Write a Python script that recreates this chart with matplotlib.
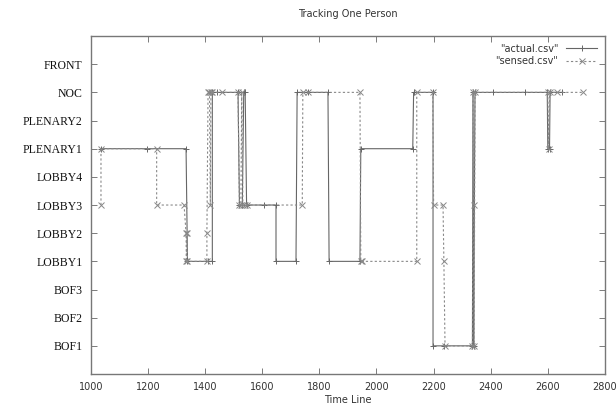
import matplotlib
matplotlib.use("Agg")
import matplotlib.pyplot as plt

# location names, bottom to top
places = ["BOF1", "BOF2", "BOF3", "LOBBY1", "LOBBY2", "LOBBY3",
          "LOBBY4", "PLENARY1", "PLENARY2", "NOC", "FRONT"]

# actual.csv  (time, place)
actual_t = [1035, 1195, 1333, 1338, 1410, 1425, 1425, 1440, 1515,
            1520, 1530, 1535, 1540, 1545, 1606, 1648, 1648, 1718, 1722,
            1760, 1830, 1834, 1942, 1945, 2127, 2130, 2198, 2198,
            2236, 2336, 2338, 2340, 2345, 2407, 2520, 2598, 2600, 2606,
            2608, 2650]
actual_p = ["PLENARY1", "PLENARY1", "PLENARY1", "LOBBY1", "LOBBY1",
            "LOBBY1", "NOC", "NOC", "NOC",
            "LOBBY3", "LOBBY3", "NOC", "NOC", "LOBBY3", "LOBBY3", "LOBBY3",
            "LOBBY1", "LOBBY1", "NOC",
            "NOC", "NOC", "LOBBY1", "LOBBY1", "PLENARY1",
            "PLENARY1", "NOC", "NOC", "BOF1",
            "BOF1", "BOF1", "NOC", "BOF1", "NOC", "NOC", "NOC", "NOC",
            "PLENARY1", "PLENARY1",
            "NOC", "NOC"]

# sensed.csv  (time, place)
sensed_t = [1035, 1035, 1230, 1230, 1326, 1333, 1334, 1336, 1338, 1406,
            1406, 1410, 1415, 1418, 1420, 1425, 1460, 1515, 1520, 1525,
            1528, 1532, 1540, 1548, 1740, 1742, 1760, 1942, 1945, 1950,
            2141, 2141, 2197, 2200, 2233, 2236, 2240, 2336, 2338, 2340,
            2342, 2345, 2600, 2603, 2606, 2631, 2722]
sensed_p = ["LOBBY3", "PLENARY1", "PLENARY1", "LOBBY3", "LOBBY3", "LOBBY2",
            "LOBBY1", "LOBBY2", "LOBBY1", "LOBBY1",
            "LOBBY2", "NOC", "NOC", "LOBBY3", "NOC", "NOC", "NOC", "NOC",
            "LOBBY3", "LOBBY3",
            "NOC", "LOBBY3", "LOBBY3", "LOBBY3", "LOBBY3", "NOC", "NOC",
            "NOC", "LOBBY1", "LOBBY1",
            "LOBBY1", "NOC", "NOC", "LOBBY3", "LOBBY3", "LOBBY1", "BOF1",
            "BOF1", "NOC", "LOBBY3",
            "BOF1", "NOC", "NOC", "PLENARY1", "NOC", "NOC", "NOC"]

x_ticks = [1000, 1200, 1400, 1600, 1800, 2000, 2200, 2400, 2600, 2800]

actual_y = [places.index(p) for p in actual_p]
sensed_y = [places.index(p) for p in sensed_p]

fig = plt.figure(figsize=(6.16, 4.05), dpi=100)
ax = fig.add_axes([0.1477, 0.0765, 0.8343, 0.8345])

ax.plot(actual_t, actual_y, color="#666666", linewidth=0.8, linestyle="-",
        marker="+", markersize=4.5, markeredgewidth=0.7, label='"actual.csv"')
ax.plot(sensed_t, sensed_y, color="#888888", linewidth=0.8, linestyle=(0, (2, 2)),
        marker="x", markersize=4, markeredgewidth=0.7, label='"sensed.csv"')

ax.set_xlim(1000, 2800)
ax.set_ylim(-1, 11)
ax.set_xticks(x_ticks)
ax.set_xticklabels([str(v) for v in x_ticks], fontsize=7, color="#333333")
ax.set_yticks(range(len(places)))
ax.set_yticklabels(places, fontsize=8.5, family="Liberation Serif", color="#111111")

ax.tick_params(direction="in", top=True, right=True, length=4, width=0.6,
               color="#666666", pad=6)
for s in ax.spines.values():
    s.set_color("#777777")
    s.set_linewidth(1.0)

ax.set_title("Tracking One Person", fontsize=7, color="#333333", pad=14)
ax.set_xlabel("Time Line", fontsize=7, color="#333333", labelpad=2)

ax.legend(loc="upper right", frameon=False, markerfirst=False, fontsize=7,
          handlelength=3.2, labelspacing=0.25, borderaxespad=0.4,
          labelcolor="#333333")

fig.savefig("out.png", dpi=100)
